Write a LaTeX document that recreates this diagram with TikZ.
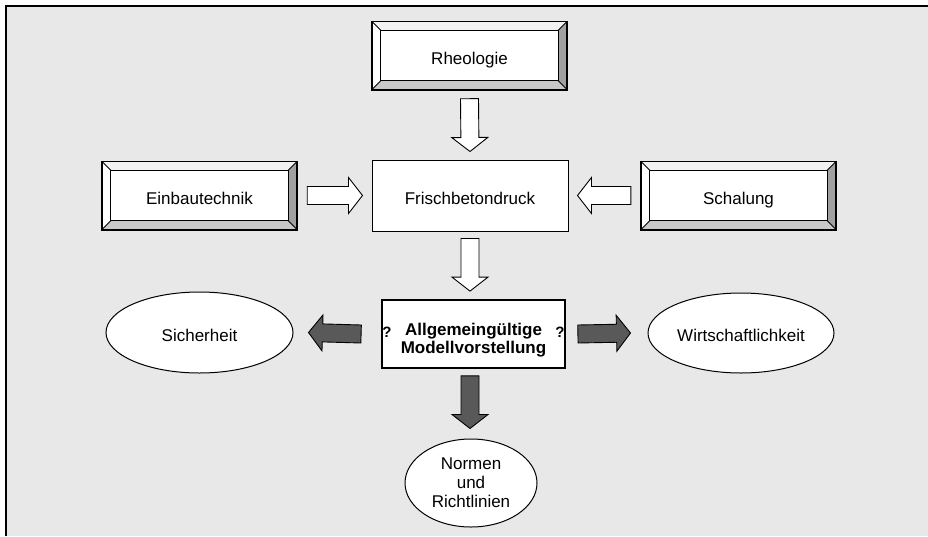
\documentclass[tikz,border=0pt]{standalone}
\usepackage{fontspec}
\setmainfont{Liberation Sans}
\usetikzlibrary{calc,shapes.geometric}

\definecolor{panel}{HTML}{E8E8E8}
\definecolor{bevtop}{HTML}{F2F2F2}
\definecolor{bevleft}{HTML}{FFFFFF}
\definecolor{bevright}{HTML}{A0A0A0}
\definecolor{bevbottom}{HTML}{C8C8C8}
\definecolor{darkarrow}{HTML}{595959}

% raised box: white face, four bevel strips and outlines around node #1
\newcommand\bevel[1]{%
  \fill[bevtop] (#1.north west) -- (#1.north east) -- ([shift={(-9,9)}]#1.north east) -- ([shift={(9,9)}]#1.north west) -- cycle;
  \fill[bevleft] (#1.north west) -- ([shift={(9,9)}]#1.north west) -- ([shift={(9,-9)}]#1.south west) -- (#1.south west) -- cycle;
  \fill[bevright] (#1.north east) -- (#1.south east) -- ([shift={(-9,-9)}]#1.south east) -- ([shift={(-9,9)}]#1.north east) -- cycle;
  \fill[bevbottom] (#1.south west) -- (#1.south east) -- ([shift={(-9,-9)}]#1.south east) -- ([shift={(9,-9)}]#1.south west) -- cycle;
  \draw[line width=0.8pt] (#1.north west) -- ([shift={(9,9)}]#1.north west)
        (#1.north east) -- ([shift={(-9,9)}]#1.north east)
        (#1.south west) -- ([shift={(9,-9)}]#1.south west)
        (#1.south east) -- ([shift={(-9,-9)}]#1.south east);
  \draw[line width=1pt] ([shift={(9,9)}]#1.north west) rectangle ([shift={(-9,-9)}]#1.south east);
  \draw[line width=1.6pt] (#1.north west) rectangle (#1.south east);
}

% block arrow from tail point #2 to tip point #3
\newcommand\blockarrow[3]{%
  \coordinate (hb) at ($(#3)!14pt!(#2)$);
  \draw[#1] ($(#2)!9pt!90:(#3)$) -- ($(hb)!9pt!-90:(#2)$) -- ($(hb)!18pt!-90:(#2)$) -- (#3)
     -- ($(hb)!18pt!90:(#2)$) -- ($(hb)!9pt!90:(#2)$) -- ($(#2)!9pt!-90:(#3)$) -- cycle;
}

\begin{document}
\begin{tikzpicture}[x=1pt,y=-1pt,
  lbl/.style={font=\fontsize{17}{19}\selectfont, align=center},
  oneline/.style={text height=17pt, text depth=0pt},
  bevelbox/.style={lbl, oneline, fill=white, inner sep=0pt, minimum width=195pt, minimum height=68pt},
  plainbox/.style={lbl, oneline, draw, fill=white, line width=1pt, inner sep=0pt, minimum width=196pt, minimum height=71pt},
  mainbox/.style={draw, fill=white, line width=1.8pt, inner sep=0pt, minimum width=183pt, minimum height=68pt},
  maintext/.style={font=\fontsize{17}{18.3}\selectfont\bfseries, align=center, inner sep=0pt},
  oval/.style={lbl, ellipse, draw, fill=white, line width=1pt, inner sep=-20pt},
  whitearrow/.style={draw, fill=white, line width=0.9pt, line join=miter},
  greyarrow/.style={draw, fill=darkarrow, line width=0.9pt, line join=miter},
  qmark/.style={font=\fontsize{15}{17}\selectfont\bfseries, inner sep=0pt}
]
\useasboundingbox (0,0) rectangle (928,536);
\fill[white] (0,0) rectangle (928,536);
\fill[panel] (6,6) rectangle (928,536);
\draw[line width=2pt] (6,536) -- (6,6) -- (928,6);

% input boxes
\node[bevelbox] (rheo) at (469.5,55.5) {Rheologie};
\node[bevelbox] (einbau) at (199.5,195.5) {Einbautechnik};
\node[bevelbox] (schal) at (738.5,195.5) {Schalung};
\bevel{rheo}
\bevel{einbau}
\bevel{schal}

% central boxes
\node[plainbox] (frisch) at (470,195.5) {Frischbetondruck};
\node[mainbox] (modell) at (473.5,334) {};
\node[maintext] (modelltext) at (473.5,340) {Allgemeingültige\\Modellvorstellung};
\node[qmark, anchor=base] (qleft) at (387,337) {?};
\node[qmark, anchor=base] (qright) at (560,337) {?};

% consequences
\node[oval, oneline, minimum width=187pt, minimum height=81pt] (sicher) at (199.5,332.5) {Sicherheit};
\node[oval, oneline, minimum width=186pt, minimum height=80pt] (wirt) at (741,333) {Wirtschaftlichkeit};
\node[oval, minimum width=132pt, minimum height=88pt] (normen) at (471,483) {Normen\\und\\Richtlinien};

% inflow arrows
\blockarrow{whitearrow}{$(rheo.south)+(0,9)$}{$(frisch.north)+(0,-8)$}
\blockarrow{whitearrow}{$(einbau.east)+(10,0)$}{$(frisch.west)+(-9,0)$}
\blockarrow{whitearrow}{$(schal.west)+(-10,0)$}{$(frisch.east)+(9,0)$}
\blockarrow{whitearrow}{$(frisch.south)+(0,7)$}{$(modell.north)+(-3.5,-8)$}

% outflow arrows
\blockarrow{greyarrow}{$(modell.west)+(-20,0)$}{$(sicher.east)+(15,0)$}
\blockarrow{greyarrow}{$(modell.east)+(12,0)$}{$(wirt.west)+(-17,0)$}
\blockarrow{greyarrow}{$(modell.south)+(-3.5,7)$}{$(normen.north)+(-1,-10)$}
\end{tikzpicture}
\end{document}
